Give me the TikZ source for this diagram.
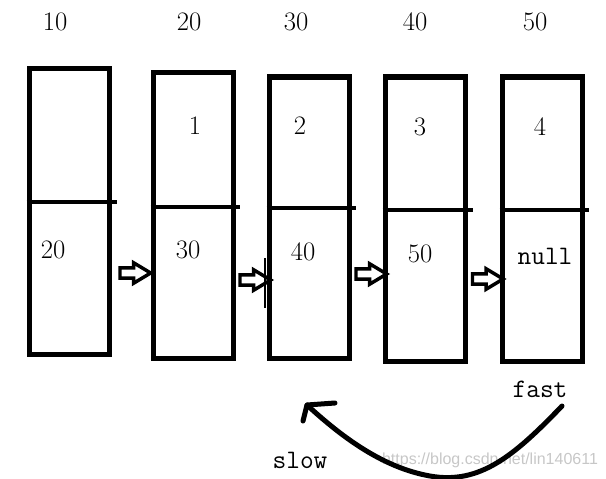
\documentclass[tikz,border=0pt]{standalone}
\usepackage{fontspec}
\newfontfamily\wmfont{Liberation Sans}
\usetikzlibrary{shapes.arrows}

\begin{document}
\begin{tikzpicture}[x=0.75pt,y=0.75pt,yscale=-1,xscale=1,
  cell/.style={draw, line width=3.75pt, minimum width=60pt, minimum height=213.75pt, inner sep=0pt},
  divider/.style={line width=3.2pt},
  label/.style={inner sep=0pt, font=\fontsize{20}{24}\selectfont},
  word/.style={inner sep=0pt, font=\fontsize{20}{24}\selectfont\ttfamily},
  ptr/.style={single arrow, draw, line width=2.6pt, inner sep=2.6pt, minimum height=23pt, single arrow head extend=3.8pt, single arrow tip angle=62, anchor=center},
  hook/.style={line width=3.75pt, line cap=round, line join=round}]
\useasboundingbox (0,0) rectangle (606,478);

% Watermark
\node[inner sep=0pt, text=black!22, font=\wmfont\fontsize{12}{14}\selectfont] (mark) at (490,460) {https://blog.csdn.net/lin140611};

% Boxes
\node[cell] (box1) at (69,211.5) {};
\node[cell] (box2) at (193,215.5) {};
\node[cell, minimum height=210.75pt] (box3) at (309,217.5) {};
\node[cell, minimum height=213pt] (box4) at (425,219) {};
\node[cell, minimum height=213pt] (box5) at (542,219) {};

% Dividers
\draw[divider] (box1.west |- 0,202) -- (117,202);
\draw[divider] (box2.west |- 0,207) -- (240,207);
\draw[divider] (box3.west |- 0,208) -- (356,208);
\draw[divider] (box4.west |- 0,210) -- (473,210);
\draw[divider] (box5.west |- 0,210) -- (589,210);

% Addresses
\node[label] (addr1) at (55,22) {10};
\node[label] (addr2) at (189,22) {20};
\node[label] (addr3) at (296,22) {30};
\node[label] (addr4) at (415,22) {40};
\node[label] (addr5) at (535,22) {50};

% Values
\node[label] (data2) at (195,126) {1};
\node[label] (data3) at (300,126) {2};
\node[label] (data4) at (420,127) {3};
\node[label] (data5) at (540,127) {4};
\node[label] (next1) at (53,250) {20};
\node[label] (next2) at (188,250) {30};
\node[label] (next3) at (303,252) {40};
\node[label] (next4) at (420,254) {50};
\node[word] (next5) at (545,256) {null};

% Pointers
\path (box1.east |- 0,273) -- (box2.west |- 0,273) node[midway, ptr] {};
\path (box2.east |- 0,280) -- (box3.west |- 0,280) node[midway, ptr] {};
\path (box3.east |- 0,274) -- (box4.west |- 0,274) node[midway, ptr] {};
\path (box4.east |- 0,279) -- (box5.west |- 0,279) node[midway, ptr] {};
\draw[line width=1.5pt] (265,258) -- (265,308);

% fast / slow
\node[word] (fast) at (540,389) {fast};
\node[word] (slow) at (300,460) {slow};
\coordinate (tail) at (562,406);
\coordinate (tip) at (307,405);
\draw[hook] (tail) .. controls (515,455) and (480,485) .. (430,476) .. controls (385,468) and (345,440) .. (tip);
\draw[hook] (335,403) -- (tip) -- (303,421);

\end{tikzpicture}
\end{document}
